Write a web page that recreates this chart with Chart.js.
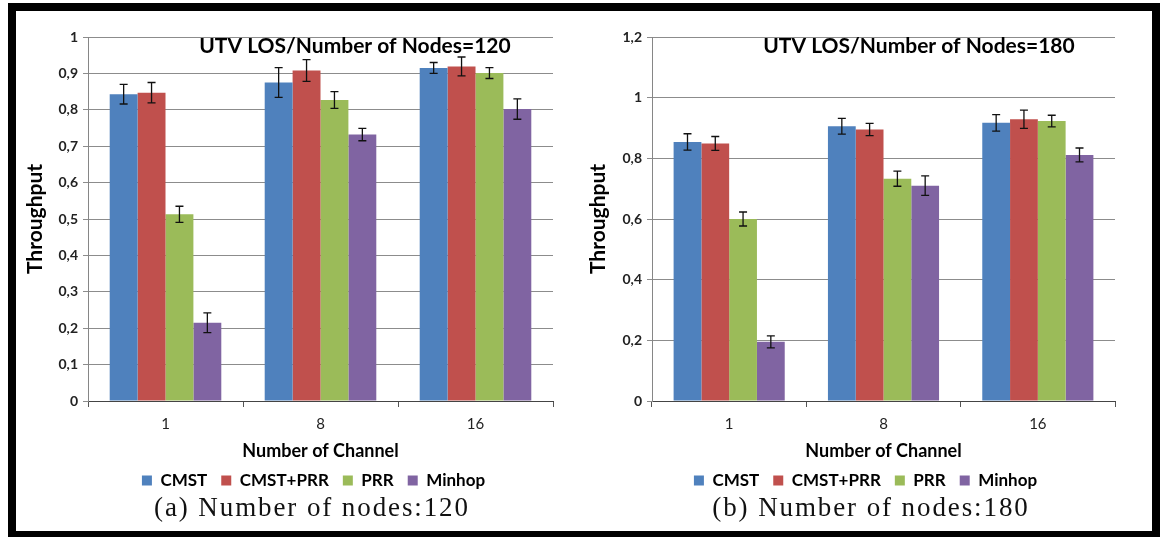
<!DOCTYPE html>
<html>
<head>
<meta charset="utf-8">
<script src="https://cdn.jsdelivr.net/npm/chart.js@4.4.1/dist/chart.umd.min.js"></script>
<style>
  html, body { margin: 0; padding: 0; background: #fff; }
  body { width: 1162px; height: 537px; position: relative; overflow: hidden; }
  #frame { position: absolute; left: 8px; top: 3px; width: 1136px; height: 520px;
           border: 8px solid #000; border-bottom-width: 6px; }
  .wrap { position: absolute; }
  .caption { position: absolute; font-family: "Liberation Serif", serif; font-size: 27px;
             letter-spacing: 1.9px; color: #111; text-align: center; white-space: nowrap; }
</style>
</head>
<body>
<div id="frame"></div>
<div class="wrap" style="left:16px; top:11px; width:562px; height:488px;"><canvas id="c120"></canvas></div>
<div class="wrap" style="left:585px; top:11px; width:565px; height:488px;"><canvas id="c180"></canvas></div>
<div class="caption" style="left:112px; top:492px; width:400px;">(a) Number of nodes:120</div>
<div class="caption" style="left:671px; top:492px; width:400px;">(b) Number of nodes:180</div>

<script>
// Number of channels on the x axis
const channels = ['1', '8', '16'];
const seriesNames = ['CMST', 'CMST+PRR', 'PRR', 'Minhop'];
const seriesColors = ['#4F81BD', '#C0504D', '#9BBB59', '#8064A2'];

// Throughput, 120 nodes
const cmst120     = [0.843, 0.875, 0.915];
const cmstPrr120  = [0.847, 0.908, 0.919];
const prr120      = [0.513, 0.827, 0.901];
const minhop120   = [0.215, 0.732, 0.802];
// half-width of the error bars, 120 nodes
const cmst120Err    = [0.027, 0.041, 0.015];
const cmstPrr120Err = [0.028, 0.030, 0.026];
const prr120Err     = [0.022, 0.023, 0.015];
const minhop120Err  = [0.027, 0.017, 0.028];

// Throughput, 180 nodes
const cmst180     = [0.854, 0.906, 0.917];
const cmstPrr180  = [0.849, 0.895, 0.929];
const prr180      = [0.600, 0.733, 0.923];
const minhop180   = [0.195, 0.710, 0.811];
// half-width of the error bars, 180 nodes
const cmst180Err    = [0.027, 0.026, 0.027];
const cmstPrr180Err = [0.023, 0.020, 0.030];
const prr180Err     = [0.023, 0.025, 0.019];
const minhop180Err  = [0.020, 0.032, 0.023];

// y axis ranges
const yMax120 = 1.0, yStep120 = 0.1;
const yMax180 = 1.2, yStep180 = 0.2;

const FONT = 'Lato, "Open Sans", sans-serif';

// error bars drawn on top of each bar from the dataset's err array
const errorBars = {
  id: 'errorBars',
  afterDatasetsDraw(chart) {
    const { ctx } = chart;
    const y = chart.scales.y;
    ctx.save();
    ctx.strokeStyle = '#111';
    ctx.lineWidth = 1.3;
    chart.data.datasets.forEach((ds, i) => {
      const meta = chart.getDatasetMeta(i);
      meta.data.forEach((bar, j) => {
        const v = ds.data[j], e = ds.err[j];
        const yHi = y.getPixelForValue(v + e);
        const yLo = y.getPixelForValue(v - e);
        const cap = 4;
        ctx.beginPath();
        ctx.moveTo(bar.x, yHi); ctx.lineTo(bar.x, yLo);
        ctx.moveTo(bar.x - cap, yHi); ctx.lineTo(bar.x + cap, yHi);
        ctx.moveTo(bar.x - cap, yLo); ctx.lineTo(bar.x + cap, yLo);
        ctx.stroke();
      });
    });
    ctx.restore();
  }
};

// plot title written inside the plot area
const plotTitle = {
  id: 'plotTitle',
  afterDraw(chart, args, opts) {
    const { ctx, chartArea } = chart;
    ctx.save();
    ctx.font = 'bold 21px ' + FONT;
    ctx.fillStyle = '#000';
    ctx.textAlign = 'center';
    ctx.textBaseline = 'middle';
    ctx.fillText(opts.text, chartArea.left + opts.dx, chartArea.top + opts.dy);
    ctx.restore();
  }
};

// nudges the legend row sideways after layout
const legendShift = {
  id: 'legendShift',
  afterLayout(chart, args, opts) {
    const lg = chart.legend;
    if (lg) { lg.left += opts.dx; lg.right += opts.dx; }
  }
};

function fmt(v) {
  return String(Number(v.toFixed(1))).replace('.', ',');
}

function makeChart(id, values, errs, yMax, yStep, title, yWidth, yTitlePad, rightPad, legendDx) {
  const datasets = seriesNames.map((name, k) => ({
    label: name,
    data: values[k],
    err: errs[k],
    backgroundColor: seriesColors[k],
    borderWidth: 0,
    categoryPercentage: 0.72,
    barPercentage: 1.0
  }));
  return new Chart(document.getElementById(id), {
    type: 'bar',
    data: { labels: channels, datasets },
    plugins: [errorBars, plotTitle, legendShift],
    options: {
      responsive: true,
      maintainAspectRatio: false,
      animation: false,
      layout: { padding: { top: 26, left: 0, right: rightPad, bottom: 0 } },
      plugins: {
        tooltip: { enabled: false },
        plotTitle: { text: title, dx: 267, dy: 9 },
        legendShift: { dx: legendDx },
        legend: {
          position: 'bottom',
          fullSize: false,
          labels: {
            boxWidth: 10, boxHeight: 10, padding: 14,
            color: '#000',
            font: { family: FONT, size: 17, weight: 'bold' }
          }
        }
      },
      scales: {
        x: {
          afterFit(s) { s.height = 57; },
          grid: { offset: true, drawOnChartArea: false, drawTicks: true, tickLength: 6, color: '#555' },
          border: { color: '#444', width: 1 },
          ticks: { color: '#222', padding: 8, font: { family: FONT, size: 15 } },
          title: {
            display: true, text: 'Number of Channel', color: '#000',
            font: { family: FONT, size: 18, weight: 'bold', lineHeight: 1 },
            padding: { top: 0, bottom: -2 }
          }
        },
        y: {
          min: 0, max: yMax,
          afterFit(s) { s.width = yWidth; },
          grid: { color: '#8c8c8c', lineWidth: 1, drawTicks: true, tickLength: 5 },
          border: { color: '#868686', width: 1 },
          ticks: {
            stepSize: yStep, color: '#222', padding: 5,
            font: { family: FONT, size: 14, weight: 'bold' },
            callback: v => fmt(v)
          },
          title: {
            display: true, text: 'Throughput', color: '#000',
            font: { family: FONT, size: 21, weight: 'bold', lineHeight: 1 },
            padding: { top: yTitlePad, bottom: 0 }
          }
        }
      }
    }
  });
}

makeChart('c120',
  [cmst120, cmstPrr120, prr120, minhop120],
  [cmst120Err, cmstPrr120Err, prr120Err, minhop120Err],
  yMax120, yStep120, 'UTV LOS/Number of Nodes=120', 72, 8.5, 25, -7);

makeChart('c180',
  [cmst180, cmstPrr180, prr180, minhop180],
  [cmst180Err, cmstPrr180Err, prr180Err, minhop180Err],
  yMax180, yStep180, 'UTV LOS/Number of Nodes=180', 67, 2.5, 35, -18);
</script>
</body>
</html>
